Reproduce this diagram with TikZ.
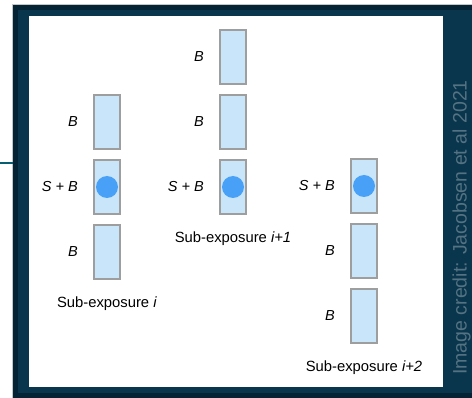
\documentclass[tikz,border=0pt]{standalone}
\usepackage{fontspec}
\setmainfont{Liberation Sans}
\usepackage{tikz}
\usetikzlibrary{positioning}
\usepackage{xcolor}
\definecolor{panelnavy}{RGB}{9,54,77}
\definecolor{paneldark}{RGB}{4,36,54}
\definecolor{creditgrey}{RGB}{84,114,130}
\definecolor{pixfill}{RGB}{201,229,250}
\definecolor{pixedge}{RGB}{158,158,158}
\definecolor{sourceblue}{RGB}{72,161,246}
\tikzstyle{pixbox} = [rectangle, minimum width=26pt, minimum height=54pt, inner sep=0pt, draw=pixedge, fill=pixfill, line width=2.2pt]
\tikzstyle{source} = [circle, minimum size=22pt, inner sep=0pt, fill=sourceblue]
\tikzstyle{tag} = [inner sep=0pt, font=\fontsize{14.5}{16}\selectfont\itshape]
\tikzstyle{caption} = [inner sep=0pt, font=\fontsize{14.8}{16}\selectfont]

\begin{document}
\begin{tikzpicture}[x=1pt, y=-1pt]
\useasboundingbox (0,0) rectangle (472,398);

% Frame around the panel
\fill[paneldark] (13,4.5) rectangle (472,398);
\fill[panelnavy] (18,10) rectangle (472,393);
\fill[white] (29,16) rectangle (443,387);
\draw[gray!45, line width=0.8pt] (12.6,398) |- (472,4.2);

% Lead-in line
\coordinate (lead) at (0,163);
\coordinate (leadend) at (13,163);
\draw[panelnavy!80!cyan, line width=1.2pt] (lead) -- (leadend);

% Sub-exposure i
\node[pixbox] (c1r2) at (107,122) {};
\node[pixbox] (c1r3) at (107,187) {};
\node[pixbox] (c1r4) at (107,252) {};
\node[source] (src1) at (c1r3) {};
\node[tag, left=15pt of c1r2] (l1r2) {B};
\node[tag, left=15pt of c1r3] (l1r3) {S + B};
\node[tag, left=15pt of c1r4] (l1r4) {B};
\node[caption, below=16pt of c1r4] (cap1) {Sub-exposure \textit{i}};

% Sub-exposure i+1
\node[pixbox] (c2r1) at (233,57) {};
\node[pixbox] (c2r2) at (233,122) {};
\node[pixbox] (c2r3) at (233,187) {};
\node[source] (src2) at (c2r3) {};
\node[tag, left=15pt of c2r1] (l2r1) {B};
\node[tag, left=15pt of c2r2] (l2r2) {B};
\node[tag, left=15pt of c2r3] (l2r3) {S + B};
\node[caption, below=16pt of c2r3] (cap2) {Sub-exposure \textit{i+1}};

% Sub-exposure i+2
\node[pixbox] (c3r3) at (364,186) {};
\node[pixbox] (c3r4) at (364,251) {};
\node[pixbox] (c3r5) at (364,316) {};
\node[source] (src3) at (c3r3) {};
\node[tag, left=15pt of c3r3] (l3r3) {S + B};
\node[tag, left=15pt of c3r4] (l3r4) {B};
\node[tag, left=15pt of c3r5] (l3r5) {B};
\node[caption, below=16pt of c3r5] (cap3) {Sub-exposure \textit{i+2}};

% Credit
\node[rotate=90, anchor=base, text=creditgrey, inner sep=0pt, font=\fontsize{19.5}{21}\selectfont] (credit) at (466.5,227.5) {Image credit: Jacobsen et al 2021};
\end{tikzpicture}
\end{document}
